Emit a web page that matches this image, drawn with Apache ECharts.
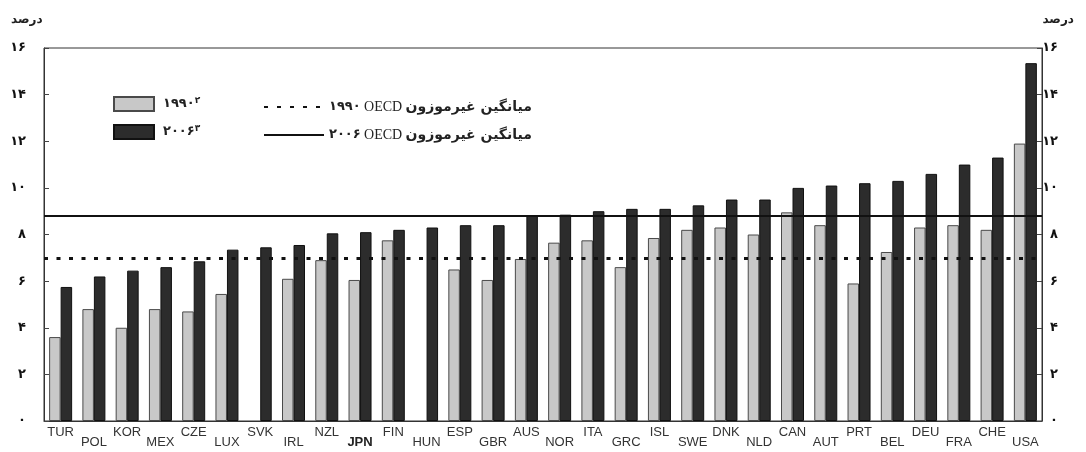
<!DOCTYPE html>
<html>
<head>
<meta charset="utf-8">
<script src="https://cdn.jsdelivr.net/npm/echarts@6/dist/echarts.min.js"></script>
<style>
  html, body { margin: 0; padding: 0; background: #fff; }
  #chart { width: 1086px; height: 452px; }
</style>
</head>
<body>
<div id="chart"></div>
<script>
// countries, sorted by the 2006 value
var countries = ['TUR', 'POL', 'KOR', 'MEX', 'CZE', 'LUX', 'SVK', 'IRL', 'NZL', 'JPN',
  'FIN', 'HUN', 'ESP', 'GBR', 'AUS', 'NOR', 'ITA', 'GRC', 'ISL', 'SWE',
  'DNK', 'NLD', 'CAN', 'AUT', 'PRT', 'BEL', 'DEU', 'FRA', 'CHE', 'USA'];

var values1990 = [3.6, 4.8, 4.0, 4.8, 4.7, 5.45, null, 6.1, 6.9, 6.05,
  7.75, null, 6.5, 6.05, 6.95, 7.65, 7.75, 6.6, 7.85, 8.2,
  8.3, 8.0, 8.95, 8.4, 5.9, 7.25, 8.3, 8.4, 8.2, 11.9];

var values2006 = [5.75, 6.2, 6.45, 6.6, 6.85, 7.35, 7.45, 7.55, 8.05, 8.1,
  8.2, 8.3, 8.4, 8.4, 8.8, 8.85, 9.0, 9.1, 9.1, 9.25,
  9.5, 9.5, 10.0, 10.1, 10.2, 10.3, 10.6, 11.0, 11.3, 15.35];

// unweighted OECD averages
var avg1990 = 7.0;
var avg2006 = 8.8;

var persianDigits = ['۰', '۱', '۲', '۳', '۴', '۵', '۶', '۷', '۸', '۹'];

function toPersian(n) {
  return String(n).replace(/[0-9]/g, function (d) { return persianDigits[+d]; });
}

var legendText = {
  '1990': '{a|' + toPersian(1990) + '}{s|' + toPersian(2) + '}',
  '2006': '{a|' + toPersian(2006) + '}{s|' + toPersian(3) + '}',
  'avg1990': '{d|' + toPersian(1990) + '} {o|OECD} {p|میانگین غیرموزون}',
  'avg2006': '{d|' + toPersian(2006) + '} {o|OECD} {p|میانگین غیرموزون}'
};

var chart = echarts.init(document.getElementById('chart'));

var yAxisBase = {
  type: 'value',
  min: 0,
  max: 16,
  interval: 2,
  splitLine: { show: false },
  axisLine: { show: true, lineStyle: { color: '#333', width: 1 } },
  axisTick: { show: true, inside: true, length: 5, lineStyle: { color: '#444' } },
  axisLabel: {
    color: '#111',
    fontFamily: 'DejaVu Sans',
    fontWeight: 'bold',
    fontSize: 13,
    formatter: function (v) { return toPersian(v); }
  }
};

var titleStyle = { fontFamily: 'DejaVu Sans', fontSize: 12, fontWeight: 'bold', color: '#222' };

var option = {
  backgroundColor: '#fff',
  animation: false,
  title: [
    { text: 'درصد', left: 6, top: 9, textStyle: titleStyle },
    { text: 'درصد', right: 7, top: 9, textStyle: titleStyle }
  ],
  grid: {
    left: 44, right: 44, top: 48, bottom: 31,
    show: true, borderColor: '#333', borderWidth: 1
  },
  legend: [
    {
      data: ['1990', '2006'],
      orient: 'vertical',
      left: 108, top: 91,
      icon: 'rect',
      itemWidth: 40, itemHeight: 14, itemGap: 12,
      selectedMode: false,
      formatter: function (name) { return legendText[name]; },
      textStyle: {
        rich: {
          a: { fontFamily: 'DejaVu Sans', fontSize: 13, fontWeight: 'bold', color: '#222', padding: [0, 0, 0, 4], lineHeight: 16 },
          s: { fontFamily: 'DejaVu Sans', fontSize: 9, fontWeight: 'bold', color: '#222', verticalAlign: 'top', lineHeight: 10 }
        }
      }
    },
    {
      data: ['avg1990', 'avg2006'],
      orient: 'vertical',
      left: 258, top: 95,
      itemWidth: 60, itemHeight: 14, itemGap: 14,
      itemStyle: { opacity: 0 },
      selectedMode: false,
      formatter: function (name) { return legendText[name]; },
      textStyle: {
        rich: {
          d: { fontFamily: 'DejaVu Sans', fontSize: 13, fontWeight: 'bold', color: '#222' },
          o: { fontFamily: 'Liberation Serif', fontSize: 14, color: '#222' },
          p: { fontFamily: 'DejaVu Sans', fontSize: 14, fontWeight: 'bold', color: '#222' }
        }
      }
    }
  ],
  xAxis: {
    type: 'category',
    data: countries,
    axisLine: { show: true, lineStyle: { color: '#333' } },
    axisTick: { show: false },
    axisLabel: {
      interval: 0,
      margin: 4,
      // labels alternate between an upper and a lower row
      formatter: function (v, i) {
        var key = (v === 'JPN' ? 'j' : 'n') + (i % 2 ? 'l' : 'u');
        return '{' + key + '|' + v + '}';
      },
      rich: {
        nu: { fontFamily: 'Liberation Sans', fontSize: 13, color: '#333', lineHeight: 14 },
        nl: { fontFamily: 'Liberation Sans', fontSize: 13, color: '#333', lineHeight: 14, padding: [21, 0, 0, 0] },
        ju: { fontFamily: 'Liberation Sans', fontSize: 13, fontWeight: 'bold', color: '#222', lineHeight: 14 },
        jl: { fontFamily: 'Liberation Sans', fontSize: 13, fontWeight: 'bold', color: '#222', lineHeight: 14, padding: [21, 0, 0, 0] }
      }
    }
  },
  yAxis: [
    echarts.util.merge({ position: 'left', axisLabel: { margin: 18 } }, yAxisBase, true),
    echarts.util.merge({ position: 'right', axisLabel: { margin: 16, align: 'right' } }, yAxisBase, true)
  ],
  series: [
    {
      name: '1990',
      type: 'bar',
      data: values1990,
      barWidth: 11.5,
      barGap: '0%',
      itemStyle: { color: '#c8c8c8', borderColor: '#4a4a4a', borderWidth: 1 }
    },
    {
      name: '2006',
      type: 'bar',
      data: values2006,
      barWidth: 11.5,
      itemStyle: { color: '#2c2c2c', borderColor: '#111', borderWidth: 1 }
    },
    {
      name: 'avg1990',
      type: 'line',
      data: [],
      symbol: 'none',
      itemStyle: { color: '#111' },
      lineStyle: { color: '#111', width: 3, type: [4, 9] },
      markLine: {
        silent: true,
        symbol: 'none',
        label: { show: false },
        lineStyle: { color: '#111', width: 3, type: [4, 8.5] },
        data: [{ yAxis: avg1990 }]
      }
    },
    {
      name: 'avg2006',
      type: 'line',
      data: [],
      symbol: 'none',
      itemStyle: { color: '#111' },
      lineStyle: { color: '#111', width: 2, type: 'solid' },
      markLine: {
        silent: true,
        symbol: 'none',
        label: { show: false },
        lineStyle: { color: '#111', width: 2, type: 'solid' },
        data: [{ yAxis: avg2006 }]
      }
    }
  ]
};

chart.setOption(option);
</script>
</body>
</html>
